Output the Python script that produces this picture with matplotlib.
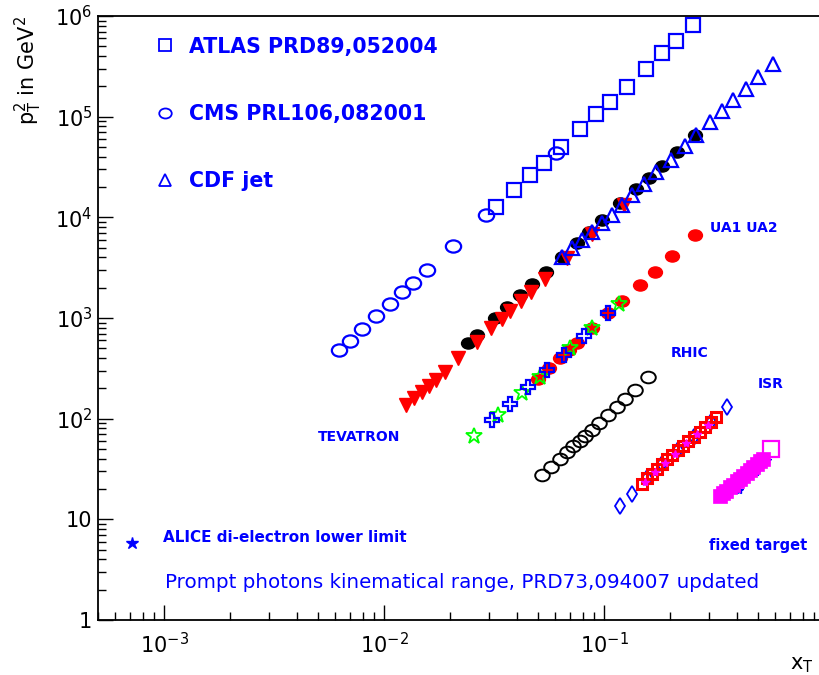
import matplotlib
matplotlib.use('Agg')
import matplotlib.pyplot as plt
from matplotlib.lines import Line2D
from matplotlib.path import Path
from matplotlib.transforms import Affine2D
from matplotlib.ticker import FixedLocator, FixedFormatter, LogLocator, NullFormatter

# ---- data (x_T, p_T^2 in GeV^2) ----
atlas_x = [0.0323, 0.0390, 0.0461, 0.0533, 0.0638, 0.0778, 0.0920, 0.1064, 0.1274, 0.1553, 0.1836, 0.2123, 0.2541]
atlas_y = [12700, 18700, 26400, 34700, 50000, 75500, 106000, 140000, 197000, 298000, 429000, 565000, 814000]

cms_x = [0.00624, 0.00700, 0.00794, 0.00921, 0.01064, 0.01208, 0.01356, 0.01566, 0.0206, 0.0291, 0.0605]
cms_y = [482, 593, 780, 1050, 1380, 1816, 2233, 3006, 5200, 10570, 43600]

cdf_x = [0.0644, 0.0716, 0.0794, 0.0881, 0.0979, 0.1087, 0.1207, 0.1340, 0.1520, 0.1722,
         0.2017, 0.2336, 0.2620, 0.3033, 0.3437, 0.3857, 0.4418, 0.5012, 0.5862]
cdf_y = [4045, 4966, 5970, 7160, 8800, 10570, 13270, 16680, 21500, 28250,
         37150, 51170, 65800, 88500, 114000, 146600, 188400, 247700, 333700]

tev_circ_x = [0.0241, 0.0265, 0.0320, 0.0362, 0.0415, 0.0471, 0.0545, 0.0644, 0.0753, 0.0855,
              0.0979, 0.1183, 0.1396, 0.1604, 0.1836, 0.2149, 0.2596]
tev_circ_y = [566, 679, 1002, 1288, 1694, 2180, 2870, 4045, 5570, 7160,
              9420, 13900, 19140, 24600, 32400, 44600, 65800]

tev_tri_x = [0.01259, 0.01368, 0.01489, 0.01603, 0.01722, 0.01892, 0.02167, 0.0265, 0.0306,
             0.0343, 0.0374, 0.0420, 0.0466, 0.0540, 0.0679, 0.0881, 0.1233]
tev_tri_y = [137, 161, 185, 212, 243, 292, 402, 579, 798,
             979, 1177, 1479, 1816, 2445, 3954, 6840, 13270]

ua_x = [0.0501, 0.0562, 0.0631, 0.0693, 0.0753, 0.0881, 0.1042, 0.1207, 0.1459, 0.1706, 0.2037, 0.2596]
ua_y = [248, 319, 402, 482, 566, 798, 1125, 1479, 2133, 2870, 4140, 6680]

star_x = [0.02564, 0.0330, 0.0424, 0.0512, 0.0700, 0.0881, 0.1169]
star_y = [67.5, 109, 180, 260, 505, 798, 1380]

cross_x = [0.0310, 0.0374, 0.0452, 0.0551, 0.0658, 0.0811, 0.1042]
cross_y = [97.3, 140, 207, 305, 430, 664, 1125]

rhic_x = [0.0522, 0.0574, 0.0631, 0.0679, 0.0723, 0.0778, 0.0821, 0.0881, 0.0948, 0.1042,
          0.1146, 0.1245, 0.1384, 0.1585]
rhic_y = [27.7, 33.2, 39.9, 46.8, 53.7, 60.2, 67.5, 77.4, 90.8, 109, 131, 157, 193, 260]

isr_sq_x = [0.1490, 0.1567, 0.1652, 0.1742, 0.1836, 0.1932, 0.2037, 0.2168, 0.2286, 0.2410,
            0.2565, 0.2729, 0.2877, 0.3062, 0.3228]
isr_sq_y = [22.5, 25.8, 28.3, 31.7, 35.5, 39.9, 43.7, 49.0, 53.7, 60.2, 65.9, 73.9, 83.0, 92.9, 104]

isr_dia_x = [0.1183, 0.1340, 0.1567, 0.1836, 0.2168, 0.2565, 0.3062, 0.3622]
isr_dia_y = [13.6, 17.9, 25.8, 35.5, 49.0, 65.9, 92.9, 131]

isr_mag_x = [0.1530, 0.1700, 0.1880, 0.2090, 0.2350, 0.2640, 0.2960]
isr_mag_y = [23.5, 29.5, 36.5, 45.0, 57.0, 70.0, 87.0]

fixed_x = [0.3365, 0.3475, 0.3589, 0.3741, 0.3857, 0.4027, 0.4150, 0.4285, 0.4467, 0.4613,
           0.4753, 0.4955, 0.5117, 0.5284]
fixed_y = [17.1, 18.1, 19.3, 20.8, 22.1, 23.9, 25.4, 26.9, 29.1, 30.9, 32.8, 35.5, 37.6, 39.9]

fixed_open_x = [0.574]
fixed_open_y = [50.1]

fixed_star_x = [0.411, 0.491, 0.551]
fixed_star_y = [19.6, 29.6, 39.0]

alice_x = [7.16e-4]
alice_y = [5.84]

ytick_vals = [1, 10, 1e2, 1e3, 1e4, 1e5, 1e6]
ytick_labels = ['1', '10', r'$10^{2}$', r'$10^{3}$', r'$10^{4}$', r'$10^{5}$', r'$10^{6}$']
xtick_vals = [1e-3, 1e-2, 1e-1]
xtick_labels = [r'$10^{-3}$', r'$10^{-2}$', r'$10^{-1}$']

BLUE = '#0000ff'
RED = '#ff0000'
GREEN = '#00ff00'
MAGENTA = '#ff00ff'

# slightly flattened circle like in the original
ell = Path.unit_circle().transformed(Affine2D().scale(1.0, 0.8))

fig = plt.figure(figsize=(8.2, 6.75), dpi=100)
ax = fig.add_axes([0.1195, 0.0815, 0.8856, 0.8948])
ax.set_xscale('log')
ax.set_yscale('log')
ax.set_xlim(5e-4, 1)
ax.set_ylim(1, 1e6)

# TEVATRON photons
ax.plot(tev_circ_x, tev_circ_y, ls='none', marker=ell, ms=10, mfc='black', mec='black')
ax.plot(tev_tri_x, tev_tri_y, ls='none', marker='v', ms=9.5, mfc=RED, mec=RED)
# CDF jets
ax.plot(cdf_x, cdf_y, ls='none', marker='^', ms=10.5, mfc='none', mec=BLUE, mew=1.6)
# ATLAS, CMS
ax.plot(atlas_x, atlas_y, ls='none', marker='s', ms=10, mfc='none', mec=BLUE, mew=1.6)
ax.plot(cms_x, cms_y, ls='none', marker=ell, ms=11, mfc='none', mec=BLUE, mew=1.6)
# UA1 UA2
ax.plot(ua_x, ua_y, ls='none', marker=ell, ms=10, mfc=RED, mec=RED)
ax.plot(star_x, star_y, ls='none', marker='*', ms=12, mfc='none', mec=GREEN, mew=1.3)
ax.plot(cross_x, cross_y, ls='none', marker='P', ms=9.5, mfc='none', mec=BLUE, mew=1.6)
# RHIC
ax.plot(rhic_x, rhic_y, ls='none', marker=ell, ms=10.5, mfc='none', mec='black', mew=1.4)
# ISR
ax.plot(isr_dia_x, isr_dia_y, ls='none', marker='d', ms=8.5, mfc='none', mec=BLUE, mew=1.3)
ax.plot(isr_sq_x, isr_sq_y, ls='none', marker='s', ms=6.5, mfc='none', mec=RED, mew=2.2)
ax.plot(isr_mag_x, isr_mag_y, ls='none', marker='*', ms=6, mfc=MAGENTA, mec=MAGENTA)
# fixed target
ax.plot(fixed_star_x, fixed_star_y, ls='none', marker='*', ms=6, mfc=BLUE, mec=BLUE)
ax.plot(fixed_x, fixed_y, ls='none', marker='s', ms=10, mfc=MAGENTA, mec=MAGENTA, mew=0.5)
ax.plot(fixed_open_x, fixed_open_y, ls='none', marker='s', ms=11, mfc='none', mec=MAGENTA, mew=1.6)
# ALICE
ax.plot(alice_x, alice_y, ls='none', marker='*', ms=9, mfc=BLUE, mec=BLUE)

# legend for the LHC / CDF jet series
handles = [
    Line2D([], [], ls='none', marker='s', ms=8.5, mfc='none', mec=BLUE, mew=1.3),
    Line2D([], [], ls='none', marker=ell, ms=9, mfc='none', mec=BLUE, mew=1.3),
    Line2D([], [], ls='none', marker='^', ms=8.5, mfc='none', mec=BLUE, mew=1.3),
]
labels = ['ATLAS PRD89,052004', 'CMS PRL106,082001', 'CDF jet']
ax.legend(handles, labels, loc='upper left', bbox_to_anchor=(0.0785, 0.966),
          frameon=False, handlelength=1.0, handletextpad=0.65, labelspacing=2.3,
          borderaxespad=0, borderpad=0, labelcolor=BLUE,
          prop={'size': 14.8, 'weight': 'bold'})

# annotations
txt = dict(color=BLUE, transform=ax.transAxes, va='center', ha='left')
ax.text(0.303, 0.303, 'TEVATRON', fontsize=10, fontweight='bold', **txt)
ax.text(0.789, 0.442, 'RHIC', fontsize=10, fontweight='bold', **txt)
ax.text(0.909, 0.391, 'ISR', fontsize=10, fontweight='bold', **txt)
ax.text(0.843, 0.649, 'UA1 UA2', fontsize=10, fontweight='bold', **txt)
ax.text(0.842, 0.1225, 'fixed target', fontsize=10.5, fontweight='bold', **txt)
ax.text(0.0895, 0.136, 'ALICE di-electron lower limit', fontsize=11, fontweight='bold', **txt)
ax.text(0.0923, 0.0613, 'Prompt photons kinematical range, PRD73,094007 updated', fontsize=14.3, **txt)

# axes, ticks
ax.yaxis.set_major_locator(FixedLocator(ytick_vals))
ax.yaxis.set_major_formatter(FixedFormatter(ytick_labels))
ax.yaxis.set_minor_locator(LogLocator(base=10, subs=range(2, 10), numticks=20))
ax.yaxis.set_minor_formatter(NullFormatter())
ax.xaxis.set_major_locator(FixedLocator(xtick_vals))
ax.xaxis.set_major_formatter(FixedFormatter(xtick_labels))
ax.xaxis.set_minor_locator(LogLocator(base=10, subs=range(2, 10), numticks=20))
ax.xaxis.set_minor_formatter(NullFormatter())
ax.tick_params(which='both', direction='in', top=False, right=False, width=1)
ax.tick_params(which='major', length=11, labelsize=15)
ax.tick_params(axis='x', which='major', pad=9)
ax.tick_params(axis='y', which='major', pad=4)
ax.tick_params(which='minor', length=5.5)
for s in ax.spines.values():
    s.set_linewidth(1.3)

ax.set_ylabel(r'p$_\mathrm{T}^\mathrm{2}$ in GeV$^\mathrm{2}$', fontsize=15, loc='top', labelpad=8)
ax.set_xlabel(r'x$_\mathrm{T}$', fontsize=15, loc='right', labelpad=-2)
ax.xaxis.label.set_x(0.985)

fig.savefig('out.png', dpi=100)
